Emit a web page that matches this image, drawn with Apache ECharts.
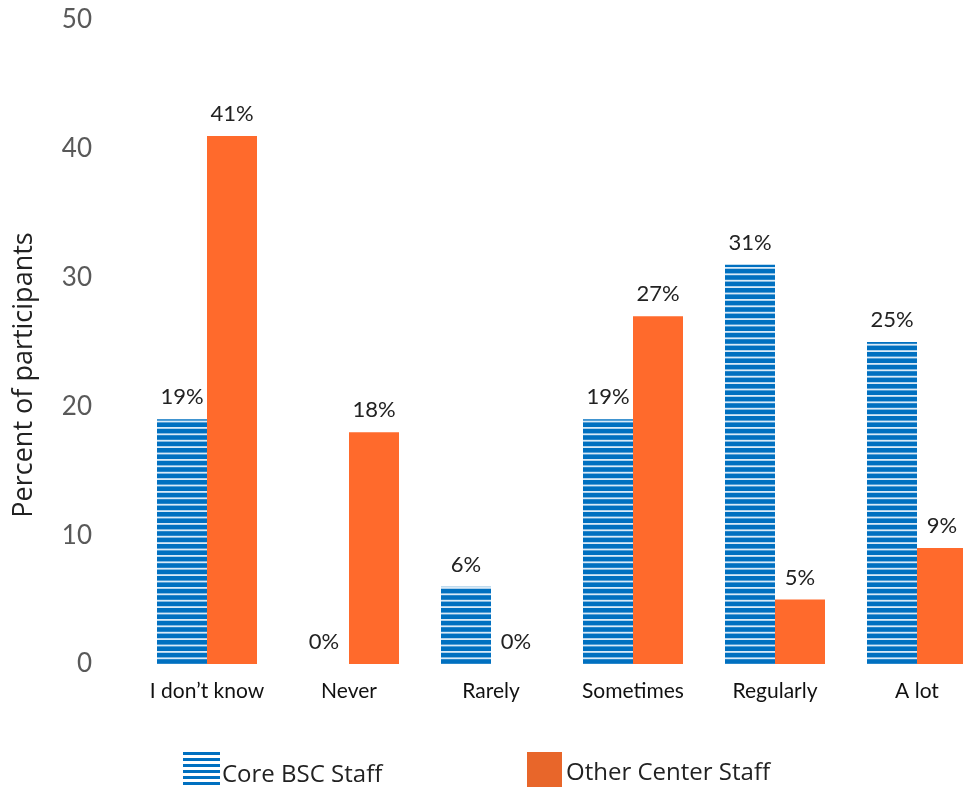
<!DOCTYPE html>
<html>
<head>
<meta charset="utf-8">
<script src="https://cdn.jsdelivr.net/npm/echarts@6/dist/echarts.min.js"></script>
<style>
  html, body { margin: 0; padding: 0; background: #fff; }
  #chart { width: 963px; height: 791px; }
</style>
</head>
<body>
<div id="chart"></div>
<script>
// Survey responses by staff group
const categories = ['I don\u2019t know', 'Never', 'Rarely', 'Sometimes', 'Regularly', 'A lot'];
const coreStaff = [19, 0, 6, 19, 31, 25];
const otherStaff = [41, 18, 0, 27, 5, 9];
const yTicks = { min: 0, max: 50, interval: 10 };
const seriesNames = ['Core BSC Staff', 'Other Center Staff'];

const BLUE = '#0070C0';
const ORANGE = '#FF6A2C';
const ORANGE_KEY = '#E8662A';

// Horizontal stripe fill for the first group
function stripePattern() {
  const c = document.createElement('canvas');
  c.width = 8;
  c.height = 32;
  const ctx = c.getContext('2d');
  ctx.fillStyle = '#d9eaf7';
  ctx.fillRect(0, 0, c.width, c.height);
  ctx.fillStyle = BLUE;
  for (let i = 0; i < 5; i++) {
    ctx.fillRect(0, i * 6.4, c.width, 4.6);
  }
  return { image: c, repeat: 'repeat' };
}

// Legend key for the striped series: six bars stacked
const stripeIcon = 'path://' + [0, 1, 2, 3, 4, 5].map(i =>
  'M0,' + (i * 6) + 'h37v3h-37z').join(' ');

const legendText = (top, shift) => ({
  fontFamily: 'Open Sans',
  fontSize: 24,
  color: '#222',
  rich: {
    t: { fontFamily: 'Open Sans', fontSize: 24, color: '#222', padding: [top, 0, 0, shift] }
  }
});

const chart = echarts.init(document.getElementById('chart'));
const labelStyle = {
  show: true,
  position: 'top',
  distance: 11,
  formatter: '{c}%',
  fontFamily: 'Lato',
  fontSize: 22,
  color: '#222'
};

chart.setOption({
  animation: false,
  grid: { left: 136, top: 20, width: 852, bottom: 127, outerBoundsMode: 'none' },
  legend: [
    {
      data: [{ name: seriesNames[0], icon: stripeIcon, itemStyle: { color: BLUE } }],
      left: 183, top: 752, padding: 0,
      itemWidth: 37, itemHeight: 34,
      formatter: '{t|{name}}',
      textStyle: legendText(14, -3)
    },
    {
      data: [{ name: seriesNames[1], icon: 'rect', itemStyle: { color: ORANGE_KEY } }],
      left: 527, top: 752, padding: 0,
      itemWidth: 35, itemHeight: 35,
      formatter: '{t|{name}}',
      textStyle: legendText(8, -1)
    }
  ],
  xAxis: {
    type: 'category',
    data: categories,
    axisLine: { show: false },
    axisTick: { show: false },
    axisLabel: { interval: 0, fontFamily: 'Lato', fontSize: 21, color: '#111', margin: 17 }
  },
  yAxis: {
    type: 'value',
    min: yTicks.min,
    max: yTicks.max,
    interval: yTicks.interval,
    name: 'Percent of participants',
    nameLocation: 'middle',
    nameGap: 98,
    nameTextStyle: { fontFamily: 'Open Sans', fontSize: 27, color: '#222', padding: [0, 66, 0, 0] },
    axisLine: { show: false },
    axisTick: { show: false },
    splitLine: { show: false },
    axisLabel: { fontFamily: 'Lato', fontSize: 26, color: '#595959', margin: 44 }
  },
  series: [
    {
      name: seriesNames[0],
      type: 'bar',
      data: coreStaff,
      barWidth: 50,
      barGap: '0%',
      itemStyle: { color: stripePattern() },
      label: labelStyle
    },
    {
      name: seriesNames[1],
      type: 'bar',
      data: otherStaff,
      barWidth: 50,
      itemStyle: { color: ORANGE },
      label: labelStyle
    }
  ]
});
</script>
</body>
</html>
